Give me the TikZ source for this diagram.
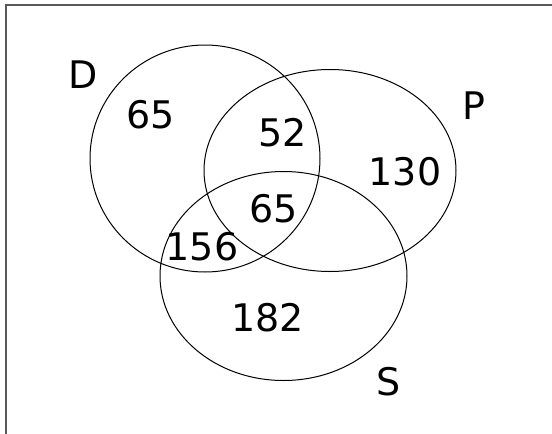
\documentclass[tikz,border=0pt]{standalone}
\usepackage{fontspec}
\setmainfont{DejaVu Sans}
\usetikzlibrary{shapes.geometric}
\begin{document}
\begin{tikzpicture}[x=1pt,y=-1pt,
  venn/.style={draw=black,line width=1pt,ellipse,inner sep=0pt},
  lbl/.style={font=\fontsize{38}{38}\selectfont,inner sep=0pt,anchor=center}]
\useasboundingbox (0,0) rectangle (552,434);
\fill[white] (0,0) rectangle (552,434);
\coordinate (tl) at (6,5);
\coordinate (tr) at (552,5);
\coordinate (bl) at (6,434);
\draw[line width=1.6pt,black!65] (tr) -- (tl) -- (bl);
\node[venn,minimum width=230,minimum height=227] (cD) at (205,158.5) {};
\node[venn,minimum width=252,minimum height=202] (cP) at (330,170.5) {};
\node[venn,minimum width=247,minimum height=209] (cS) at (283.5,276) {};
\node[lbl] (lD) at (83.5,75) {D};
\node[lbl] (lP) at (473.6,106) {P};
\node[lbl] (lS) at (389,381.5) {S};
\node[lbl] (n1) at (151,115) {65};
\node[lbl] (n2) at (283,133) {52};
\node[lbl] (n3) at (405,171.5) {130};
\node[lbl] (n4) at (274,209) {65};
\node[lbl] (n5) at (202,246.5) {156};
\node[lbl] (n6) at (267.6,318) {182};
\end{tikzpicture}
\end{document}
